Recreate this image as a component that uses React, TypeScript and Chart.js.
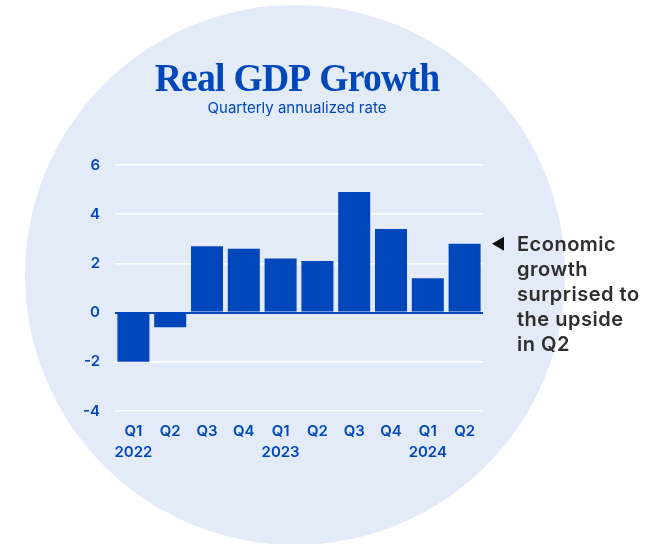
import React, { useEffect, useRef } from "react";
import { Chart, registerables } from "chart.js";

Chart.register(...registerables);

const quarters = ["Q1", "Q2", "Q3", "Q4", "Q1", "Q2", "Q3", "Q4", "Q1", "Q2"];
const years = ["2022", "", "", "", "2023", "", "", "", "2024", ""];
const growth = [-2.0, -0.6, 2.7, 2.6, 2.2, 2.1, 4.9, 3.4, 1.4, 2.8];
const yMin = -4;
const yMax = 6;
const yStep = 2;
const titleText = "Real GDP Growth";
const subtitleText = "Quarterly annualized rate";
const noteLines = ["Economic", "growth", "surprised to", "the upside", "in Q2"];

const BLUE = "#0047BB";
const BG = "#E3EBF8";

export default function App() {
  const ref = useRef<HTMLCanvasElement | null>(null);

  useEffect(() => {
    if (!ref.current) return;
    const labels = quarters.map((q, i) => [q, years[i]]);

    const decor = {
      id: "decor",
      beforeDraw(chart: any) {
        const ctx = chart.ctx;
        ctx.save();
        ctx.fillStyle = BG;
        ctx.beginPath();
        ctx.arc(295, 275, 270, 0, Math.PI * 2);
        ctx.fill();
        ctx.restore();
      },
      afterDraw(chart: any) {
        const ctx = chart.ctx;
        const ca = chart.chartArea;
        const cx = 297;
        ctx.save();
        ctx.fillStyle = BLUE;
        ctx.textAlign = "center";
        ctx.textBaseline = "alphabetic";
        ctx.save();
        ctx.translate(cx, 91);
        ctx.scale(0.94, 1);
        ctx.font = "bold 40px 'Liberation Serif'";
        (ctx as any).letterSpacing = "-0.8px";
        ctx.fillText(titleText, 0, 0);
        ctx.restore();
        (ctx as any).letterSpacing = "0px";
        ctx.font = "400 15px Inter";
        ctx.fillText(subtitleText, cx, 113);

        // annotation
        const yScale = chart.scales.y;
        const ty = yScale.getPixelForValue(growth[growth.length - 1]);
        const tx = ca.right + 9;
        ctx.fillStyle = "#111111";
        ctx.beginPath();
        ctx.moveTo(tx, ty);
        ctx.lineTo(tx + 12, ty - 7);
        ctx.lineTo(tx + 12, ty + 7);
        ctx.closePath();
        ctx.fill();
        ctx.fillStyle = "#2e2e2e";
        ctx.textAlign = "left";
        ctx.font = "600 20px Inter";
        (ctx as any).letterSpacing = "0.5px";
        noteLines.forEach((line, i) => {
          ctx.fillText(line, tx + 25, ty + 7 + i * 25);
        });
        ctx.restore();
      },
    };

    const chart = new Chart(ref.current, {
      type: "bar",
      data: {
        labels,
        datasets: [
          {
            data: growth,
            backgroundColor: BLUE,
            borderWidth: 0,
            barPercentage: 0.87,
            categoryPercentage: 1,
          },
        ],
      },
      options: {
        responsive: false,
        animation: false,
        devicePixelRatio: 1,
        layout: { padding: { top: 165, right: 168, bottom: 73, left: 0 } },
        plugins: {
          legend: { display: false },
          tooltip: { enabled: false },
          title: { display: false },
        },
        scales: {
          x: {
            grid: { display: false, drawTicks: false },
            border: { display: false },
            afterFit(scale: any) {
              scale.height = 60;
            },
            ticks: {
              color: BLUE,
              padding: 10,
              maxRotation: 0,
              autoSkip: false,
              font: { family: "Inter", size: 15, weight: "600", lineHeight: 1.4 },
            },
          },
          y: {
            min: yMin,
            max: yMax,
            afterFit(scale: any) {
              scale.width = 115;
            },
            grid: {
              drawTicks: false,
              color: (c: any) => (c.tick && c.tick.value === 0 ? BLUE : "#ffffff"),
              lineWidth: (c: any) => (c.tick && c.tick.value === 0 ? 2 : 1.5),
            },
            border: { display: false },
            ticks: {
              stepSize: yStep,
              color: BLUE,
              padding: 15,
              font: { family: "Inter", size: 15, weight: "600" },
            },
          },
        },
      },
      plugins: [decor],
    } as any);

    return () => chart.destroy();
  }, []);

  return (
    <div style={{ position: "fixed", left: 0, top: 0, width: 651, height: 544, background: "#ffffff" }}>
      <canvas ref={ref} width={651} height={544} style={{ width: 651, height: 544, display: "block" }} />
    </div>
  );
}
